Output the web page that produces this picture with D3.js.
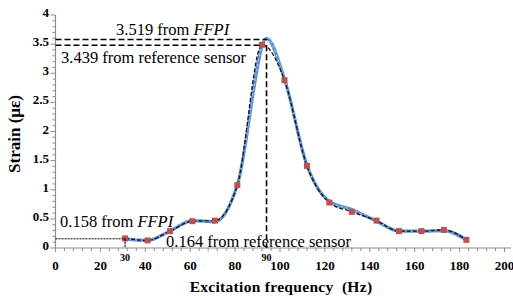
<!DOCTYPE html>
<html>
<head>
<meta charset="utf-8">
<script src="https://cdn.jsdelivr.net/npm/d3@7"></script>
<style>
  body { margin: 0; background: #fff; }
  text { font-family: "Liberation Serif", "Times New Roman", serif; }
</style>
</head>
<body>
<script>
// excitation frequency (Hz) of each measurement
const freq = [31, 41, 51, 61, 71, 81, 94, 102, 112, 122, 132, 143, 153, 163, 173, 183];
// FFPI strain (blue line)
const ffpi = [0.158, 0.13, 0.29, 0.47, 0.45, 1.08, 3.6, 2.9, 1.42, 0.8, 0.66, 0.46, 0.29, 0.29, 0.30, 0.14];
// reference sensor strain (red squares / black dashed)
const refSensor = [0.164, 0.13, 0.29, 0.46, 0.47, 1.08, 3.49, 2.88, 1.41, 0.78, 0.62, 0.47, 0.29, 0.29, 0.31, 0.14];
const refPeakFreq = 92;
const xTicks = [0, 20, 40, 60, 80, 100, 120, 140, 160, 180, 200];
const yTicks = [0, 0.5, 1, 1.5, 2, 2.5, 3, 3.5, 4];
// annotation levels as drawn
const peakFfpiLevel = 3.58, peakRefLevel = 3.48, lowLevel = 0.158;

const W = 513, H = 298;
const svg = d3.select("body").append("svg").attr("width", W).attr("height", H);

const x = d3.scaleLinear().domain([0, 200]).range([55.5, 504.5]);
const y = d3.scaleLinear().domain([0, 4]).range([248, 15]);
const axisCol = "#8c8c8c";

// y axis
svg.append("line").attr("x1", x(0)).attr("x2", x(0)).attr("y1", y(0)).attr("y2", y(4))
    .attr("stroke", axisCol).attr("stroke-width", 1.2);
d3.range(0, 41).forEach(function(i){
    const major = i % 5 === 0;
    svg.append("line")
        .attr("x1", x(0) - (major ? 5 : 3)).attr("x2", x(0))
        .attr("y1", y(i / 10)).attr("y2", y(i / 10))
        .attr("stroke", axisCol).attr("stroke-width", 1);
});
svg.selectAll(".ylab").data(yTicks).enter().append("text")
    .attr("x", 49).attr("y", function(d){ return y(d) + 2; })
    .attr("text-anchor", "end").attr("font-size", "13px").attr("font-weight", "bold")
    .text(function(d){ return d; });

// x axis
svg.append("line").attr("x1", x(0)).attr("x2", 511).attr("y1", y(0)).attr("y2", y(0))
    .attr("stroke", axisCol).attr("stroke-width", 1.2);
d3.range(0, 51).forEach(function(i){
    const major = i % 5 === 0;
    svg.append("line")
        .attr("x1", x(i * 4)).attr("x2", x(i * 4))
        .attr("y1", y(0)).attr("y2", y(0) + (major ? 4 : 3))
        .attr("stroke", axisCol).attr("stroke-width", 1);
});
svg.selectAll(".xlab").data(xTicks).enter().append("text")
    .attr("x", function(d){ return x(d); }).attr("y", 270)
    .attr("text-anchor", "middle").attr("font-size", "13px").attr("font-weight", "bold")
    .text(function(d){ return d; });

// axis titles
svg.append("text").attr("transform", "translate(20,134) rotate(-90)")
    .attr("text-anchor", "middle").attr("font-size", "17px").attr("font-weight", "bold")
    .text("Strain (\u03bc\u03b5)");
svg.append("text").attr("x", 281).attr("y", 292)
    .attr("text-anchor", "middle").attr("font-size", "15.5px").attr("font-weight", "bold")
    .attr("letter-spacing", "0.3px")
    .attr("xml:space", "preserve")
    .text("Excitation frequency  (Hz)");

// series
const line = d3.line().curve(d3.curveMonotoneX)
    .x(function(d){ return x(d[0]); }).y(function(d){ return y(d[1]); });

const ffpiPts = freq.map(function(f, i){ return [f, ffpi[i]]; });
const refPts = freq.map(function(f, i){ return [i === 6 ? refPeakFreq : f, refSensor[i]]; });

svg.append("path").datum(ffpiPts)
    .attr("d", line).attr("fill", "none")
    .attr("stroke", "#5b8fd0").attr("stroke-width", 3.2).attr("stroke-linejoin", "round");
svg.append("path").datum(ffpiPts)
    .attr("d", line).attr("fill", "none")
    .attr("stroke", "#b3cdef").attr("stroke-width", 1).attr("stroke-dasharray", "2,3");
svg.append("path").datum(refPts)
    .attr("d", line).attr("fill", "none")
    .attr("stroke", "#111").attr("stroke-width", 1.3).attr("stroke-dasharray", "4,2");

svg.selectAll(".pt").data(refPts).enter().append("rect")
    .attr("x", function(d){ return x(d[0]) - 3; })
    .attr("y", function(d){ return y(d[1]) - 3; })
    .attr("width", 6).attr("height", 6).attr("fill", "#c0504d");

// peak annotations
const peakX = freq[6];
svg.append("line").attr("x1", x(0)).attr("x2", x(peakX) + 1).attr("y1", y(peakFfpiLevel)).attr("y2", y(peakFfpiLevel))
    .attr("stroke", "#000").attr("stroke-width", 1.6).attr("stroke-dasharray", "6,3");
svg.append("line").attr("x1", x(0)).attr("x2", x(refPeakFreq)).attr("y1", y(peakRefLevel)).attr("y2", y(peakRefLevel))
    .attr("stroke", "#000").attr("stroke-width", 1.6).attr("stroke-dasharray", "6,3");
svg.append("line").attr("x1", x(peakX)).attr("x2", x(peakX)).attr("y1", y(peakRefLevel)).attr("y2", y(0))
    .attr("stroke", "#000").attr("stroke-width", 1.6).attr("stroke-dasharray", "6,3");

// low-frequency annotation
svg.append("line").attr("x1", x(0)).attr("x2", x(freq[0])).attr("y1", y(lowLevel)).attr("y2", y(lowLevel))
    .attr("stroke", "#000").attr("stroke-width", 1).attr("stroke-dasharray", "2,1");
svg.append("line").attr("x1", x(freq[0])).attr("x2", x(freq[0])).attr("y1", y(lowLevel)).attr("y2", y(0))
    .attr("stroke", "#000").attr("stroke-width", 1.2).attr("stroke-dasharray", "2,1");

function label(xp, yp, pre, ital) {
    const t = svg.append("text").attr("x", xp).attr("y", yp).attr("font-size", "16.5px");
    t.append("tspan").text(pre);
    if (ital) t.append("tspan").attr("font-style", "italic").text(ital);
}
label(116, 35, "3.519 from ", "FFPI");
label(61, 63, "3.439 from reference sensor");
label(60, 227, "0.158 from ", "FFPI");
label(166, 247, "0.164 from reference sensor");

svg.append("text").attr("x", x(freq[0])).attr("y", 261).attr("text-anchor", "middle")
    .attr("font-size", "10px").attr("font-weight", "bold").text("30");
svg.append("text").attr("x", x(peakX)).attr("y", 261).attr("text-anchor", "middle")
    .attr("font-size", "10px").attr("font-weight", "bold").text("90");
</script>
</body>
</html>
